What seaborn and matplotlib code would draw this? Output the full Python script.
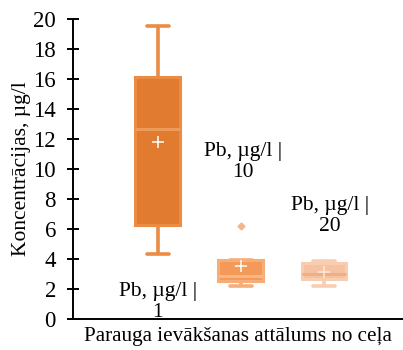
import numpy as np
import pandas as pd
import matplotlib
matplotlib.use("Agg")
import matplotlib.pyplot as plt
import seaborn as sns

# Lead concentration samples by sampling distance from the road
groups = ["Pb, µg/l | 1", "Pb, µg/l | 10", "Pb, µg/l | 20"]
pb_1 = [4.33, 6.27, 12.7, 16.13, 19.53]
pb_10 = [2.2, 2.55, 2.85, 3.95, 6.2]
pb_20 = [2.2, 2.7, 3.0, 3.75, 3.9]

label_texts = ["Pb, µg/l |\n1", "Pb, µg/l |\n10", "Pb, µg/l |\n20"]
label_y = [1.15, 10.45, 6.85]
label_dx = [0.0, 0.02, 0.07]

fill_colors = ["#E07B30", "#F39A58", "#F6C3A2"]
edge_colors = ["#EB8C44", "#F7AD77", "#F8CDB0"]
median_colors = ["#EE9A58", "#F8B585", "#F1AE86"]
mean_colors = ["#FFFFFF", "#FFFFFF", "#FCE7DA"]
flier_color = "#F6B48A"

df = pd.DataFrame({
    "group": np.repeat(groups, [len(pb_1), len(pb_10), len(pb_20)]),
    "value": pb_1 + pb_10 + pb_20,
})

sns.set_style("white")
plt.rcParams["font.family"] = ["Liberation Serif", "DejaVu Serif"]

fig = plt.figure(figsize=(4.03, 3.5), dpi=100)
ax = fig.add_axes([73 / 403, 1 - 319 / 350, 330 / 403, 300 / 350])

sns.boxplot(
    data=df, x="group", y="value", hue="group", palette=fill_colors,
    width=0.54, linewidth=2.2, showmeans=True, legend=False, ax=ax,
    meanprops=dict(marker="+", markersize=9, markeredgewidth=1.1),
    flierprops=dict(marker="D", markersize=3.5),
)

for i, cont in enumerate(ax.containers):
    for b in cont.boxes:
        b.set_facecolor(fill_colors[i])
        b.set_edgecolor(edge_colors[i])
    for ln in list(cont.whiskers) + list(cont.caps):
        ln.set_color(edge_colors[i])
        ln.set_linewidth(2.6)
    for ln in cont.medians:
        ln.set_color(median_colors[i])
    for ln in cont.means:
        ln.set_markeredgecolor(mean_colors[i])
        ln.set_markerfacecolor(mean_colors[i])
    for ln in cont.fliers:
        ln.set_markerfacecolor(flier_color)
        ln.set_markeredgecolor(flier_color)

for i, (txt, yv, dx) in enumerate(zip(label_texts, label_y, label_dx)):
    ax.text(i + dx, yv, txt, ha="center", va="center", fontsize=15.5,
            color="black", linespacing=1.12)

ax.set_xlim(-1.02, 2.95)
ax.set_ylim(0, 20)
ax.set_yticks(np.arange(0, 21, 2))
ax.set_xticks([])
ax.set_xlabel("")
ax.set_ylabel("")
ax.tick_params(axis="y", direction="inout", length=8.6, width=1.4, pad=8,
               labelsize=16.5, color="black", labelcolor="black", left=True)
for side in ["top", "right"]:
    ax.spines[side].set_visible(False)
for side in ["left", "bottom"]:
    ax.spines[side].set_color("black")
    ax.spines[side].set_linewidth(1.4)

fig.text(22 / 403, 1 - 169 / 350, "Koncentrācijas, µg/l", rotation=90,
         ha="center", va="center", fontsize=15.5, color="black")
fig.text(238 / 403, 1 - 337 / 350, "Parauga ievākšanas attālums no ceļa",
         ha="center", va="center", fontsize=15.2, color="black")

fig.savefig("out.png", dpi=100, facecolor="white")
